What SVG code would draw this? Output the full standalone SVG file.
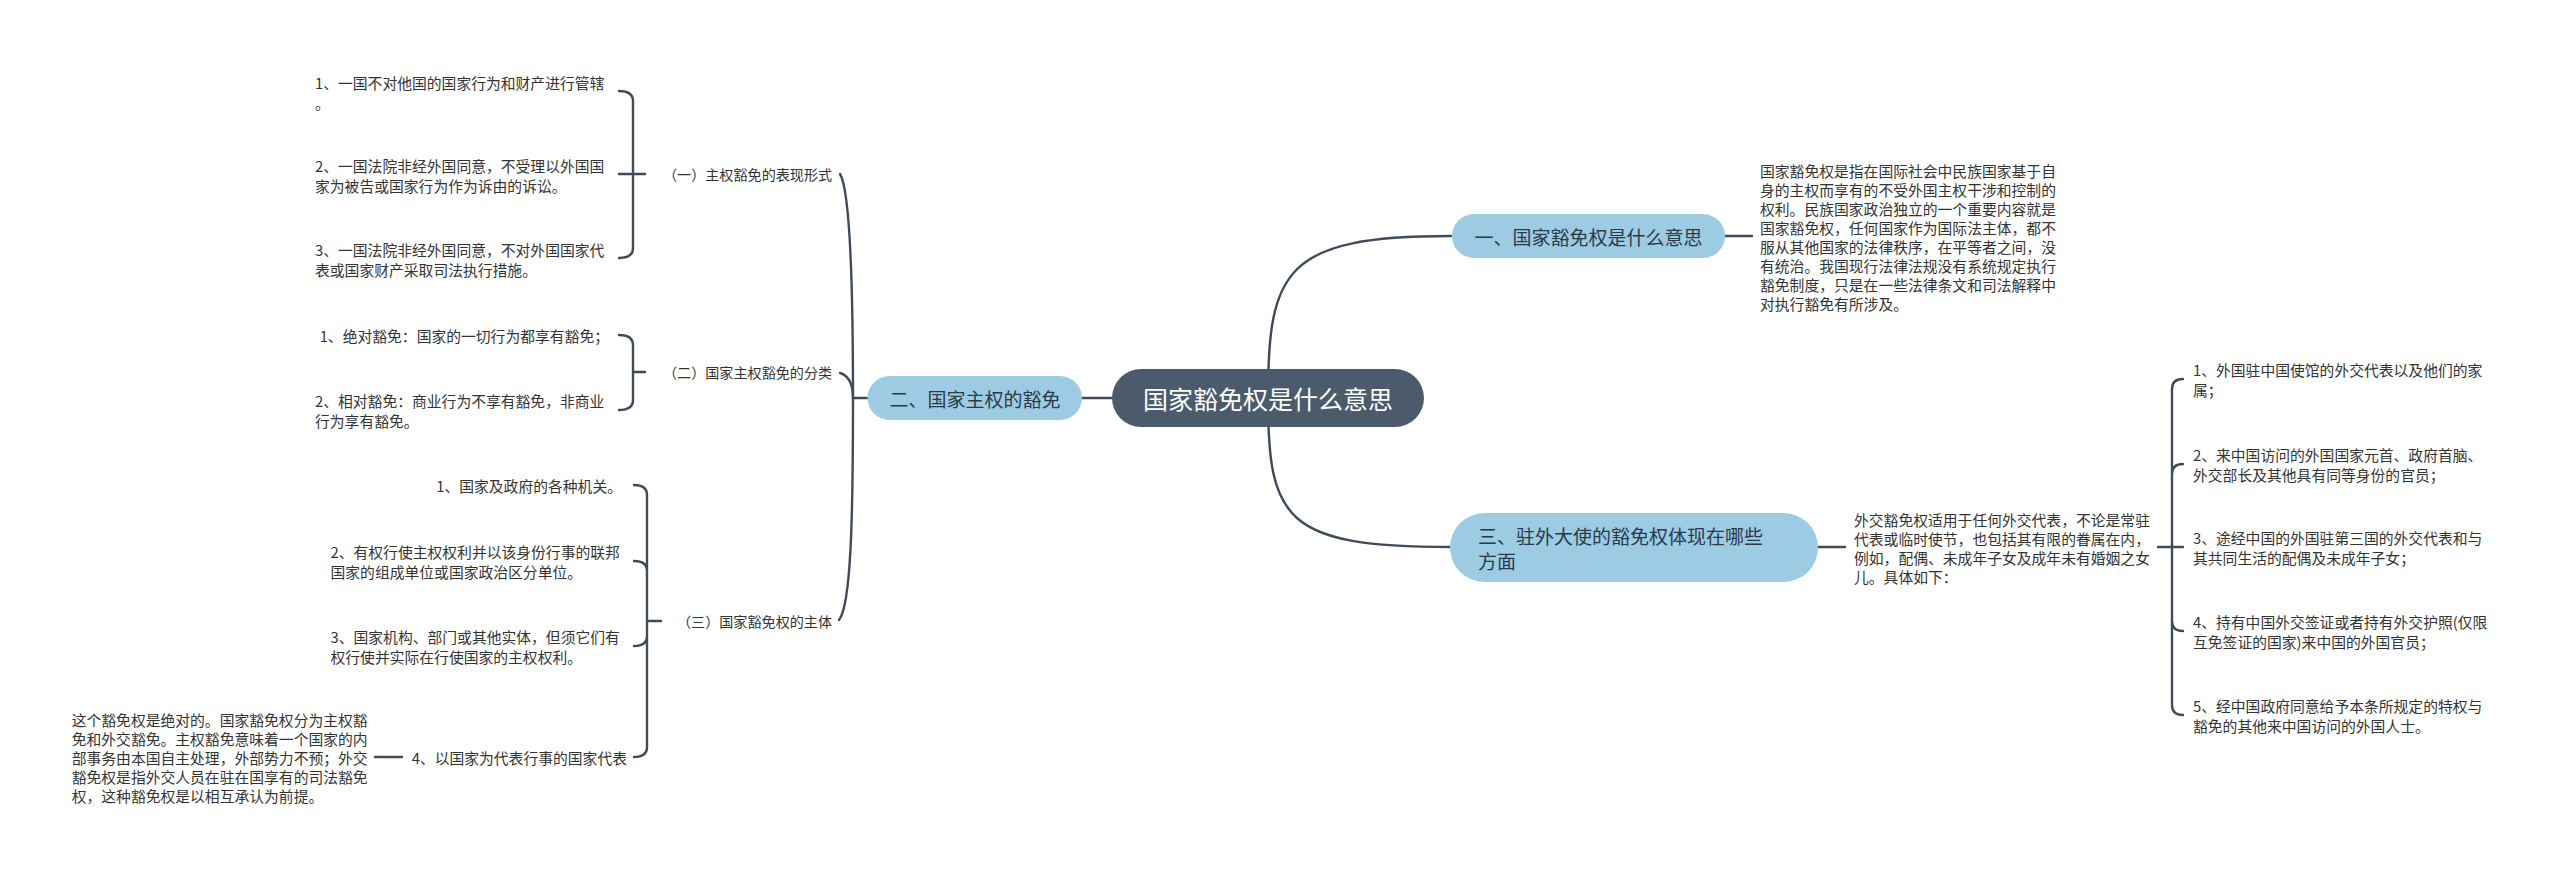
<svg xmlns="http://www.w3.org/2000/svg" width="2560" height="877" viewBox="0 0 2560 877">
<style>
.conn{fill:none;stroke:#3e4c5a;stroke-width:2.4;stroke-linecap:round}
text{font-family:"Noto Sans CJK SC","Noto Sans",sans-serif;dominant-baseline:central}
.t{font-size:14.8px;fill:#333}
.lbl{font-size:14.1px;fill:#333}
.sub{fill:#9ccbe3}
.subt{font-size:19px;fill:#2b3a4a}
.root{fill:#4b5b6b}
.roott{font-size:25px;fill:#fff}
</style>
<rect width="2560" height="877" fill="#fff"/>
<g id="connectors">
<path class="conn" d="M1082,398 L1112,398"/>
<path class="conn" d="M1268,398 C1268,270 1285,236 1451,236"/>
<path class="conn" d="M1268,398 C1268,520 1285,547 1451,547"/>
<path class="conn" d="M1725,236 L1752,236"/>
<path class="conn" d="M1818,547 L1845,547"/>
<path class="conn" d="M867,398 L853,398"/>
<path class="conn" d="M853,398 C853,280 850,190 840,174"/>
<path class="conn" d="M853,398 C853,385 850,376 840,373"/>
<path class="conn" d="M853,398 C853,520 851,605 839,620"/>
<path class="conn" d="M619,91 Q633,91 633,101 L633,248 Q633,258 619,258 M619,174 L645,174"/>
<path class="conn" d="M619,335 Q633,335 633,345 L633,400 Q633,410 619,410 M633,372 L645,372"/>
<path class="conn" d="M634,485 Q647,485 647,495 L647,747 Q647,757 634,757 M634,561 Q647,561 647,571 M634,646 Q647,646 647,636 M647,621 L661,621"/>
<path class="conn" d="M375,757 L402,757"/>
<path class="conn" d="M2158,547 L2183,547"/>
<path class="conn" d="M2183,379 Q2172,379 2172,389 L2172,705 Q2172,715 2183,715 M2183,464 Q2172,464 2172,474 M2183,631 Q2172,631 2172,621"/>
</g>
<g id="root">
<rect class="root" x="1112" y="369" width="312" height="58" rx="29"/>
<text class="roott" x="1268" y="398" text-anchor="middle">国家豁免权是什么意思</text>
</g>
<g id="n1">
<rect class="sub" x="1452" y="214" width="273" height="44" rx="22"/>
<text class="subt" x="1588.5" y="236" text-anchor="middle">一、国家豁免权是什么意思</text>
</g>
<g id="n1-desc">
<text class="t"><tspan x="1760" y="169.5">国家豁免权是指在国际社会中民族国家基于自</tspan><tspan x="1760" y="188.5">身的主权而享有的不受外国主权干涉和控制的</tspan><tspan x="1760" y="207.5">权利。民族国家政治独立的一个重要内容就是</tspan><tspan x="1760" y="226.5">国家豁免权，任何国家作为国际法主体，都不</tspan><tspan x="1760" y="245.5">服从其他国家的法律秩序，在平等者之间，没</tspan><tspan x="1760" y="264.5">有统治。我国现行法律法规没有系统规定执行</tspan><tspan x="1760" y="283.5">豁免制度，只是在一些法律条文和司法解释中</tspan><tspan x="1760" y="302.5">对执行豁免有所涉及。</tspan></text>
</g>
<g id="n3">
<rect class="sub" x="1450" y="513" width="368" height="69" rx="34.5"/>
<text class="subt"><tspan x="1478" y="535">三、驻外大使的豁免权体现在哪些</tspan><tspan x="1478" y="560">方面</tspan></text>
</g>
<g id="n3-desc">
<text class="t"><tspan x="1854" y="518.5">外交豁免权适用于任何外交代表，不论是常驻</tspan><tspan x="1854" y="537.5">代表或临时使节，也包括其有限的眷属在内，</tspan><tspan x="1854" y="556.5">例如，配偶、未成年子女及成年未有婚姻之女</tspan><tspan x="1854" y="575.5">儿。具体如下：</tspan></text>
</g>
<g id="n3-i1"><text class="t"><tspan x="2193" y="369">1、外国驻中国使馆的外交代表以及他们的家</tspan><tspan x="2193" y="389">属；</tspan></text></g>
<g id="n3-i2"><text class="t"><tspan x="2193" y="454">2、来中国访问的外国国家元首、政府首脑、</tspan><tspan x="2193" y="474">外交部长及其他具有同等身份的官员；</tspan></text></g>
<g id="n3-i3"><text class="t"><tspan x="2193" y="537">3、途经中国的外国驻第三国的外交代表和与</tspan><tspan x="2193" y="557">其共同生活的配偶及未成年子女；</tspan></text></g>
<g id="n3-i4"><text class="t"><tspan x="2193" y="621">4、持有中国外交签证或者持有外交护照(仅限</tspan><tspan x="2193" y="641">互免签证的国家)来中国的外国官员；</tspan></text></g>
<g id="n3-i5"><text class="t"><tspan x="2193" y="705">5、经中国政府同意给予本条所规定的特权与</tspan><tspan x="2193" y="725">豁免的其他来中国访问的外国人士。</tspan></text></g>
<g id="n2">
<rect class="sub" x="867.5" y="376" width="214.5" height="44" rx="22"/>
<text class="subt" x="975" y="398" text-anchor="middle">二、国家主权的豁免</text>
</g>
<g id="n2-a"><text class="lbl" x="663" y="174">（一）主权豁免的表现形式</text></g>
<g id="n2-a1"><text class="t"><tspan x="315" y="82">1、一国不对他国的国家行为和财产进行管辖</tspan><tspan x="315" y="102">。</tspan></text></g>
<g id="n2-a2"><text class="t"><tspan x="315" y="165">2、一国法院非经外国同意，不受理以外国国</tspan><tspan x="315" y="185">家为被告或国家行为作为诉由的诉讼。</tspan></text></g>
<g id="n2-a3"><text class="t"><tspan x="315" y="249">3、一国法院非经外国同意，不对外国国家代</tspan><tspan x="315" y="269">表或国家财产采取司法执行措施。</tspan></text></g>
<g id="n2-b"><text class="lbl" x="663" y="372">（二）国家主权豁免的分类</text></g>
<g id="n2-b1"><text class="t" x="609" y="335" text-anchor="end">1、绝对豁免：国家的一切行为都享有豁免；</text></g>
<g id="n2-b2"><text class="t"><tspan x="315" y="400">2、相对豁免：商业行为不享有豁免，非商业</tspan><tspan x="315" y="420">行为享有豁免。</tspan></text></g>
<g id="n2-c"><text class="lbl" x="677" y="621">（三）国家豁免权的主体</text></g>
<g id="n2-c1"><text class="t" x="622" y="485" text-anchor="end">1、国家及政府的各种机关。</text></g>
<g id="n2-c2"><text class="t"><tspan x="330.5" y="551">2、有权行使主权权利并以该身份行事的联邦</tspan><tspan x="330.5" y="571">国家的组成单位或国家政治区分单位。</tspan></text></g>
<g id="n2-c3"><text class="t"><tspan x="330.5" y="636">3、国家机构、部门或其他实体，但须它们有</tspan><tspan x="330.5" y="656">权行使并实际在行使国家的主权权利。</tspan></text></g>
<g id="n2-c4"><text class="t" x="627" y="757" text-anchor="end">4、以国家为代表行事的国家代表</text></g>
<g id="n2-c4-desc">
<text class="t"><tspan x="71.7" y="719">这个豁免权是绝对的。国家豁免权分为主权豁</tspan><tspan x="71.7" y="738">免和外交豁免。主权豁免意味着一个国家的内</tspan><tspan x="71.7" y="757">部事务由本国自主处理，外部势力不预；外交</tspan><tspan x="71.7" y="776">豁免权是指外交人员在驻在国享有的司法豁免</tspan><tspan x="71.7" y="795">权，这种豁免权是以相互承认为前提。</tspan></text>
</g>
</svg>
